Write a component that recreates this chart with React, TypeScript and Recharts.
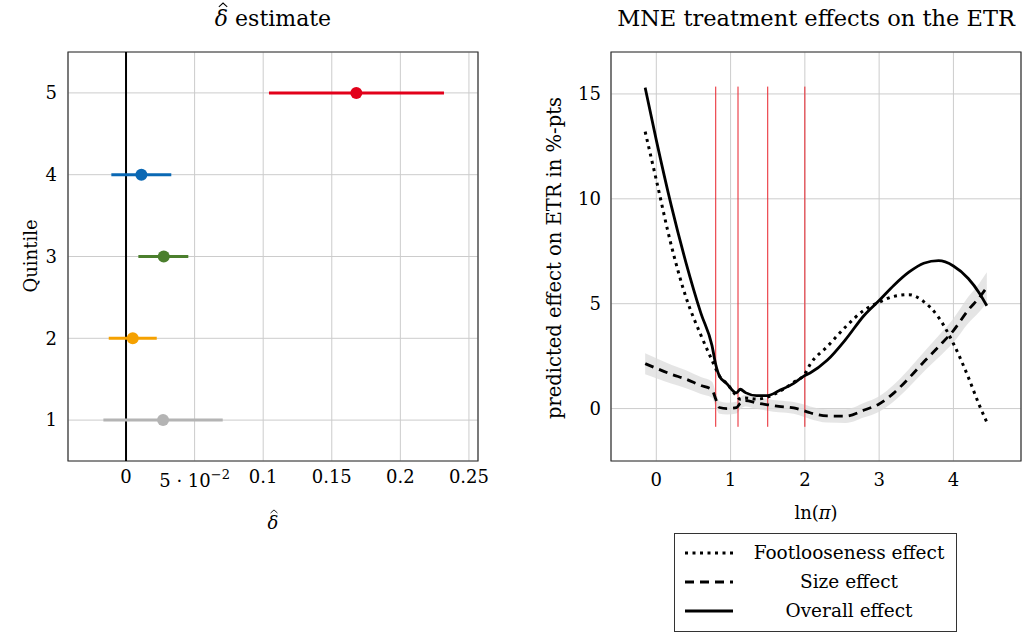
import React from 'react';
import {
  ComposedChart,
  Scatter,
  ErrorBar,
  Line,
  Area,
  XAxis,
  YAxis,
  CartesianGrid,
  ReferenceLine,
  ReferenceArea,
} from 'recharts';

const FONT = "'DejaVu Serif', serif";

// left panel: delta-hat estimate by quintile
const quintiles = [1, 2, 3, 4, 5];
const deltaPoint = [0.027, 0.0049, 0.0275, 0.0112, 0.1679];
const deltaLow = [-0.0165, -0.0126, 0.009, -0.0107, 0.1042];
const deltaHigh = [0.0705, 0.0224, 0.0454, 0.033, 0.2318];
const quintileColors = ['#b4b4b4', '#f5a100', '#4b7f2d', '#0a68b4', '#e2001a'];
const deltaTicks = [0, 0.05, 0.1, 0.15, 0.2, 0.25];
const deltaDomain = [-0.0423, 0.2566];

// right panel: treatment effects over ln(pi)
const lnPi = [
  -0.15, 0, 0.2, 0.4, 0.6, 0.75, 0.8, 0.85, 0.95, 1.08, 1.13, 1.2, 1.35, 1.5, 1.65,
  1.85, 2.0, 2.07, 2.3, 2.55, 2.8, 3.0, 3.2, 3.4, 3.6, 3.8, 4.0, 4.2, 4.35, 4.45,
];
const footloose = [
  13.2, 10.9, 7.8, 5.3, 3.5, 2.3, 1.9, 1.55, 1.2, 0.6, 0.45, 0.5, 0.45, 0.55, 0.8,
  1.25, 1.65, 2.1, 2.95, 3.9, 4.7, 5.07, 5.35, 5.43, 5.1, 4.35, 3.1, 1.5, 0.15, -0.65,
];
const sizeEffect = [
  2.14, 1.92, 1.64, 1.4, 1.1, 0.9, 0.45, 0.05, 0.0, 0.05, 0.25, 0.38, 0.27, 0.18, 0.1,
  0.03, -0.12, -0.2, -0.35, -0.36, -0.07, 0.22, 0.75, 1.45, 2.22, 2.95, 3.72, 4.7, 5.3, 5.78,
];
const sizeLow = [
  1.64, 1.44, 1.19, 0.97, 0.7, 0.52, 0.1, -0.25, -0.28, -0.23, -0.03, 0.1, -0.01, -0.1, -0.18,
  -0.25, -0.42, -0.5, -0.67, -0.69, -0.42, -0.15, 0.35, 1.02, 1.75, 2.43, 3.15, 4.07, 4.62, 5.06,
];
const sizeHigh = [
  2.64, 2.4, 2.09, 1.83, 1.5, 1.28, 0.8, 0.35, 0.28, 0.33, 0.53, 0.66, 0.55, 0.46, 0.38,
  0.31, 0.18, 0.1, -0.03, -0.03, 0.28, 0.59, 1.15, 1.88, 2.69, 3.47, 4.29, 5.33, 5.98, 6.5,
];
const overall = [
  15.3, 12.8, 9.7, 6.95, 4.55, 3.0, 2.1, 1.55, 1.18, 0.75, 0.92, 0.76, 0.62, 0.62, 0.85,
  1.2, 1.58, 1.7, 2.3, 3.3, 4.45, 5.15, 5.88, 6.5, 6.93, 7.05, 6.8, 6.2, 5.5, 4.9,
];
const thresholds = [0.8, 1.1, 1.5, 2.0];
const thresholdSpan = [-0.87, 15.35];
const lnTicks = [0, 1, 2, 3, 4];
const effectTicks = [0, 5, 10, 15];

const legendItems = [
  { name: 'Footlooseness effect', dash: '3 4.5' },
  { name: 'Size effect', dash: '9 6' },
  { name: 'Overall effect', dash: undefined },
];

const effectData = lnPi.map((x, i) => ({
  x,
  foot: footloose[i],
  size: sizeEffect[i],
  band: [sizeLow[i], sizeHigh[i]],
  overall: overall[i],
}));

const tickStyle = { fill: '#000', fontSize: 18, fontFamily: FONT };

const DeltaTick = ({ x, y, payload }: any) => {
  const v = payload.value;
  if (v === 0.05) {
    return (
      <text x={x} y={y + 18} textAnchor='middle' style={tickStyle}>
        5 · 10
        <tspan dy={-8} fontSize={13}>
          −2
        </tspan>
      </text>
    );
  }
  return (
    <text x={x} y={y + 14} textAnchor='middle' style={tickStyle}>
      {String(v)}
    </text>
  );
};

// italic delta with a small hat drawn above it
const DeltaHat = () => (
  <span style={{ position: 'relative', display: 'inline-block', fontStyle: 'italic' }}>
    δ
    <svg
      viewBox='0 0 10 5'
      style={{ position: 'absolute', left: '0.16em', top: '-0.12em', width: '0.38em', height: '0.2em', overflow: 'visible' }}
    >
      <polyline points='0,5 5,0.5 10,5' fill='none' stroke='#000' strokeWidth={1.3} />
    </svg>
  </span>
);

const textAbs = (left: number, top: number, extra: any = {}) => ({
  position: 'absolute' as const,
  left,
  top,
  transform: 'translate(-50%, -50%)',
  whiteSpace: 'nowrap' as const,
  fontFamily: FONT,
  color: '#000',
  ...extra,
});

function DeltaPanel() {
  return (
    <ComposedChart width={500} height={634} margin={{ top: 52, right: 22, bottom: 143, left: 28 }}>
      <CartesianGrid stroke='#cccccc' />
      <XAxis
        type='number'
        dataKey='x'
        domain={deltaDomain}
        ticks={deltaTicks}
        allowDataOverflow
        height={30}
        tickLine={false}
        axisLine={false}
        tick={<DeltaTick />}
      />
      <YAxis
        type='number'
        dataKey='y'
        domain={[0.5, 5.5]}
        ticks={quintiles}
        allowDataOverflow
        width={40}
        tickLine={false}
        axisLine={false}
        tickMargin={5}
        tick={tickStyle}
      />
      <ReferenceArea
        x1={deltaDomain[0]}
        x2={deltaDomain[1]}
        y1={0.5}
        y2={5.5}
        fill='none'
        stroke='#333'
        strokeWidth={1.2}
        ifOverflow='visible'
      />
      <ReferenceLine x={0} stroke='#000' strokeWidth={2} />
      {quintiles.map((q, i) => (
        <Scatter
          key={q}
          data={[{ x: deltaPoint[i], y: q, err: [deltaPoint[i] - deltaLow[i], deltaHigh[i] - deltaPoint[i]] }]}
          isAnimationActive={false}
          shape={(p: any) => <circle cx={p.cx} cy={p.cy} r={6} fill={quintileColors[i]} />}
        >
          <ErrorBar dataKey='err' direction='x' width={0} strokeWidth={3} stroke={quintileColors[i]} />
        </Scatter>
      ))}
    </ComposedChart>
  );
}

function EffectPanel() {
  return (
    <ComposedChart width={525} height={634} data={effectData} margin={{ top: 52, right: 4, bottom: 143, left: 51 }}>
      <CartesianGrid stroke='#cccccc' />
      <XAxis
        type='number'
        dataKey='x'
        domain={[-0.61, 4.91]}
        ticks={lnTicks}
        allowDataOverflow
        height={30}
        tickLine={false}
        axisLine={false}
        tickMargin={6}
        tick={tickStyle}
      />
      <YAxis
        type='number'
        domain={[-2.5, 17]}
        ticks={effectTicks}
        allowDataOverflow
        width={60}
        tickLine={false}
        axisLine={false}
        tickMargin={4}
        tick={tickStyle}
      />
      <ReferenceArea x1={-0.61} x2={4.91} y1={-2.5} y2={17} fill='none' stroke='#333' strokeWidth={1.2} ifOverflow='visible' />
      <Area dataKey='band' type='monotone' fill='#dcdcdc' fillOpacity={0.75} stroke='none' isAnimationActive={false} />
      {thresholds.map((t) => (
        <ReferenceLine
          key={t}
          segment={[
            { x: t, y: thresholdSpan[0] },
            { x: t, y: thresholdSpan[1] },
          ]}
          stroke='#e8202a'
          strokeWidth={1}
        />
      ))}
      <Line dataKey='size' type='monotone' stroke='#000' strokeWidth={2.8} strokeDasharray='9 6' dot={false} isAnimationActive={false} />
      <Line dataKey='foot' type='monotone' stroke='#000' strokeWidth={3} strokeDasharray='3 4.5' dot={false} isAnimationActive={false} />
      <Line dataKey='overall' type='monotone' stroke='#000' strokeWidth={2.8} dot={false} isAnimationActive={false} />
    </ComposedChart>
  );
}

export default function App() {
  return (
    <div style={{ position: 'absolute', left: 0, top: 0, width: 1025, height: 634, background: '#fff', fontFamily: FONT }}>
      <div style={{ position: 'absolute', left: 0, top: 0 }}>
        <DeltaPanel />
      </div>
      <div style={{ position: 'absolute', left: 500, top: 0 }}>
        <EffectPanel />
      </div>

      <div style={textAbs(273, 18, { fontSize: 22 })}>
        <DeltaHat /> estimate
      </div>
      <div style={textAbs(816, 18, { fontSize: 22.5 })}>MNE treatment effects on the ETR</div>

      <div style={textAbs(30, 256, { fontSize: 18, transform: 'translate(-50%, -50%) rotate(-90deg)' })}>Quintile</div>
      <div style={textAbs(273, 522, { fontSize: 18 })}>
        <DeltaHat />
      </div>
      <div style={textAbs(554, 258, { fontSize: 19.5, transform: 'translate(-50%, -50%) rotate(-90deg)' })}>
        predicted effect on ETR in %-pts
      </div>
      <div style={textAbs(816, 512, { fontSize: 18 })}>
        ln(<i>π</i>)
      </div>

      <div
        style={{
          position: 'absolute',
          left: 674,
          top: 533,
          width: 283,
          height: 99,
          boxSizing: 'border-box',
          border: '1.2px solid #333',
          padding: '4px 0',
        }}
      >
        {legendItems.map((item) => (
          <div key={item.name} style={{ display: 'flex', alignItems: 'center', height: 29 }}>
            <svg width={66} height={10} style={{ marginLeft: 8 }}>
              <line x1={2} y1={5} x2={50} y2={5} stroke='#000' strokeWidth={3} strokeDasharray={item.dash} />
            </svg>
            <span style={{ width: 200, textAlign: 'center', fontSize: 18.5 }}>{item.name}</span>
          </div>
        ))}
      </div>
    </div>
  );
}
